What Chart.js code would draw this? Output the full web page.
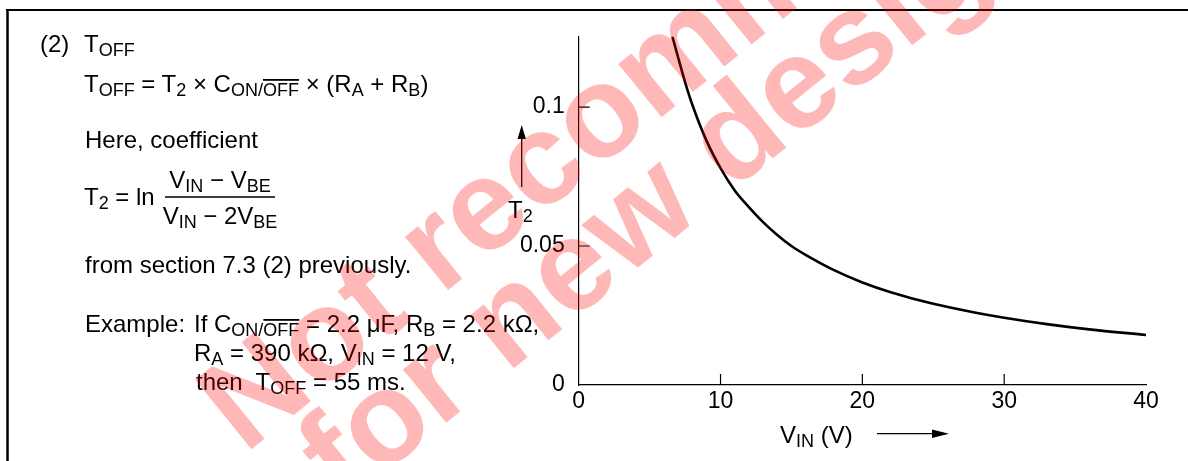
<!DOCTYPE html>
<html>
<head>
<meta charset="utf-8">
<script src="https://cdn.jsdelivr.net/npm/chart.js@4.4.1/dist/chart.umd.min.js"></script>
<style>
html, body { margin: 0; padding: 0; background: #fff; }
#wrap { position: relative; width: 1188px; height: 461px; overflow: hidden; }
#chart { position: absolute; left: 0; top: 0; }
#over { position: absolute; left: 0; top: 0; pointer-events: none; }
svg text { font-family: "Liberation Sans", Arial, sans-serif; font-size: 24px; fill: #000; white-space: pre; }
svg tspan.s { font-size: 18px; }
svg .wm { font-weight: bold; font-size: 130px; fill: #ff0000; fill-opacity: 0.28; }
</style>
</head>
<body>
<div id="wrap">
<canvas id="chart" width="1188" height="461"></canvas>
<svg id="over" width="1188" height="461">
  <!-- frame -->
  <line x1="7.5" y1="9" x2="7.5" y2="461" stroke="#000" stroke-width="2.5"/>
  <line x1="6" y1="10" x2="1188" y2="10" stroke="#000" stroke-width="2"/>

  <!-- left text block -->
  <text x="40" y="52">(2)</text>
  <text x="84" y="52">T<tspan class="s" dy="4">OFF</tspan></text>

  <text x="84" y="92">T<tspan class="s" dy="4">OFF</tspan><tspan dy="-4"> = T</tspan><tspan class="s" dy="4">2</tspan><tspan dy="-4"> × C</tspan><tspan class="s" dy="4">ON/</tspan><tspan class="s" text-decoration="overline">OFF</tspan><tspan dy="-4"> × (R</tspan><tspan class="s" dy="4">A</tspan><tspan dy="-4"> + R</tspan><tspan class="s" dy="4">B</tspan><tspan dy="-4">)</tspan></text>

  <text x="85" y="148">Here, coefficient</text>

  <text x="84" y="205">T<tspan class="s" dy="4">2</tspan><tspan dy="-4"> = ln</tspan></text>
  <text x="220" y="188" text-anchor="middle">V<tspan class="s" dy="4">IN</tspan><tspan dy="-4"> − V</tspan><tspan class="s" dy="4">BE</tspan></text>
  <line x1="165" y1="197" x2="275" y2="197" stroke="#000" stroke-width="1.4"/>
  <text x="220" y="224" text-anchor="middle">V<tspan class="s" dy="4">IN</tspan><tspan dy="-4"> − 2V</tspan><tspan class="s" dy="4">BE</tspan></text>

  <text x="85" y="273">from section 7.3 (2) previously.</text>

  <text x="85" y="332">Example:</text>
  <text x="194" y="332">If C<tspan class="s" dy="4">ON/</tspan><tspan class="s" text-decoration="overline">OFF</tspan><tspan dy="-4"> = 2.2 μF, R</tspan><tspan class="s" dy="4">B</tspan><tspan dy="-4"> = 2.2 kΩ,</tspan></text>
  <text x="194" y="361">R<tspan class="s" dy="4">A</tspan><tspan dy="-4"> = 390 kΩ, V</tspan><tspan class="s" dy="4">IN</tspan><tspan dy="-4"> = 12 V,</tspan></text>
  <text x="196" y="390">then  T<tspan class="s" dy="4">OFF</tspan><tspan dy="-4"> = 55 ms.</tspan></text>

  <!-- axis titles -->
  <line x1="521.7" y1="187" x2="521.7" y2="138" stroke="#000" stroke-width="1.3"/>
  <polygon points="521.7,125 517.5,139 525.9,139" fill="#000"/>
  <text x="508" y="218">T<tspan class="s" dy="4">2</tspan></text>

  <text x="780" y="443">V<tspan class="s" dy="4">IN</tspan><tspan dy="-4"> (V)</tspan></text>
  <line x1="877" y1="433.7" x2="934" y2="433.7" stroke="#000" stroke-width="1.3"/>
  <polygon points="949,433.7 932,429.5 932,437.9" fill="#000"/>

  <!-- watermark -->
  <g transform="translate(200,455) rotate(-39)">
    <text class="wm" x="35" y="28">Not recommended</text>
    <text class="wm" x="80" y="130">for new designs</text>
  </g>
</svg>
</div>
<script>
// curve T2 vs VIN
const vinValues = [6.6, 7, 7.5, 8, 9, 10, 11, 12, 13, 14, 15, 16, 18, 20, 22, 25, 28, 30, 33, 36, 40];
const t2Values = [0.1255, 0.118, 0.109, 0.101, 0.088, 0.078, 0.070, 0.064, 0.0586, 0.054, 0.050, 0.0468, 0.0413, 0.0369, 0.0334, 0.0292, 0.026, 0.0242, 0.0219, 0.020, 0.018];
const xTickValues = [0, 10, 20, 30, 40];
const yTickValues = [0, 0.05, 0.1];
const xInnerTicks = [10, 20, 30];
const yInnerTicks = [0.05, 0.1];

const points = vinValues.map((v, i) => ({ x: v, y: t2Values[i] }));

// ticks drawn inward from the axes
const innerTicks = {
    id: 'innerTicks',
    afterDraw(chart) {
        const ctx = chart.ctx;
        const xs = chart.scales.x, ys = chart.scales.y;
        ctx.save();
        ctx.strokeStyle = '#000';
        ctx.lineWidth = 1.2;
        ctx.beginPath();
        xInnerTicks.forEach(v => {
            const px = xs.getPixelForValue(v);
            ctx.moveTo(px, ys.bottom);
            ctx.lineTo(px, ys.bottom - 11);
        });
        yInnerTicks.forEach(v => {
            const py = ys.getPixelForValue(v);
            ctx.moveTo(xs.left, py);
            ctx.lineTo(xs.left + 11, py);
        });
        ctx.stroke();
        ctx.restore();
    }
};

const tickFont = { family: '"Liberation Sans", Arial, sans-serif', size: 23 };

new Chart(document.getElementById('chart').getContext('2d'), {
    type: 'scatter',
    data: {
        datasets: [{
            data: points,
            showLine: true,
            borderColor: '#000',
            borderWidth: 2.6,
            pointRadius: 0,
            cubicInterpolationMode: 'monotone',
            fill: false
        }]
    },
    options: {
        responsive: false,
        animation: false,
        events: [],
        layout: { padding: { left: 518.7, right: 42, top: 36.7, bottom: 36 } },
        plugins: { legend: { display: false }, tooltip: { enabled: false } },
        scales: {
            x: {
                type: 'linear',
                min: 0,
                max: 40,
                afterFit: s => { s.height = 40; },
                afterBuildTicks: s => { s.ticks = xTickValues.map(v => ({ value: v })); },
                grid: { display: false, drawTicks: false },
                border: { display: true, color: '#000', width: 1.2 },
                ticks: { color: '#000', font: tickFont, padding: 3, maxRotation: 0, autoSkip: false }
            },
            y: {
                type: 'linear',
                min: 0,
                max: 0.1253,
                afterFit: s => { s.width = 60; },
                afterBuildTicks: s => { s.ticks = yTickValues.map(v => ({ value: v })); },
                grid: { display: false, drawTicks: false },
                border: { display: true, color: '#000', width: 1.2 },
                ticks: { color: '#000', font: tickFont, padding: 14, autoSkip: false, callback: v => String(v) }
            }
        }
    },
    plugins: [innerTicks]
});
</script>
</body>
</html>
